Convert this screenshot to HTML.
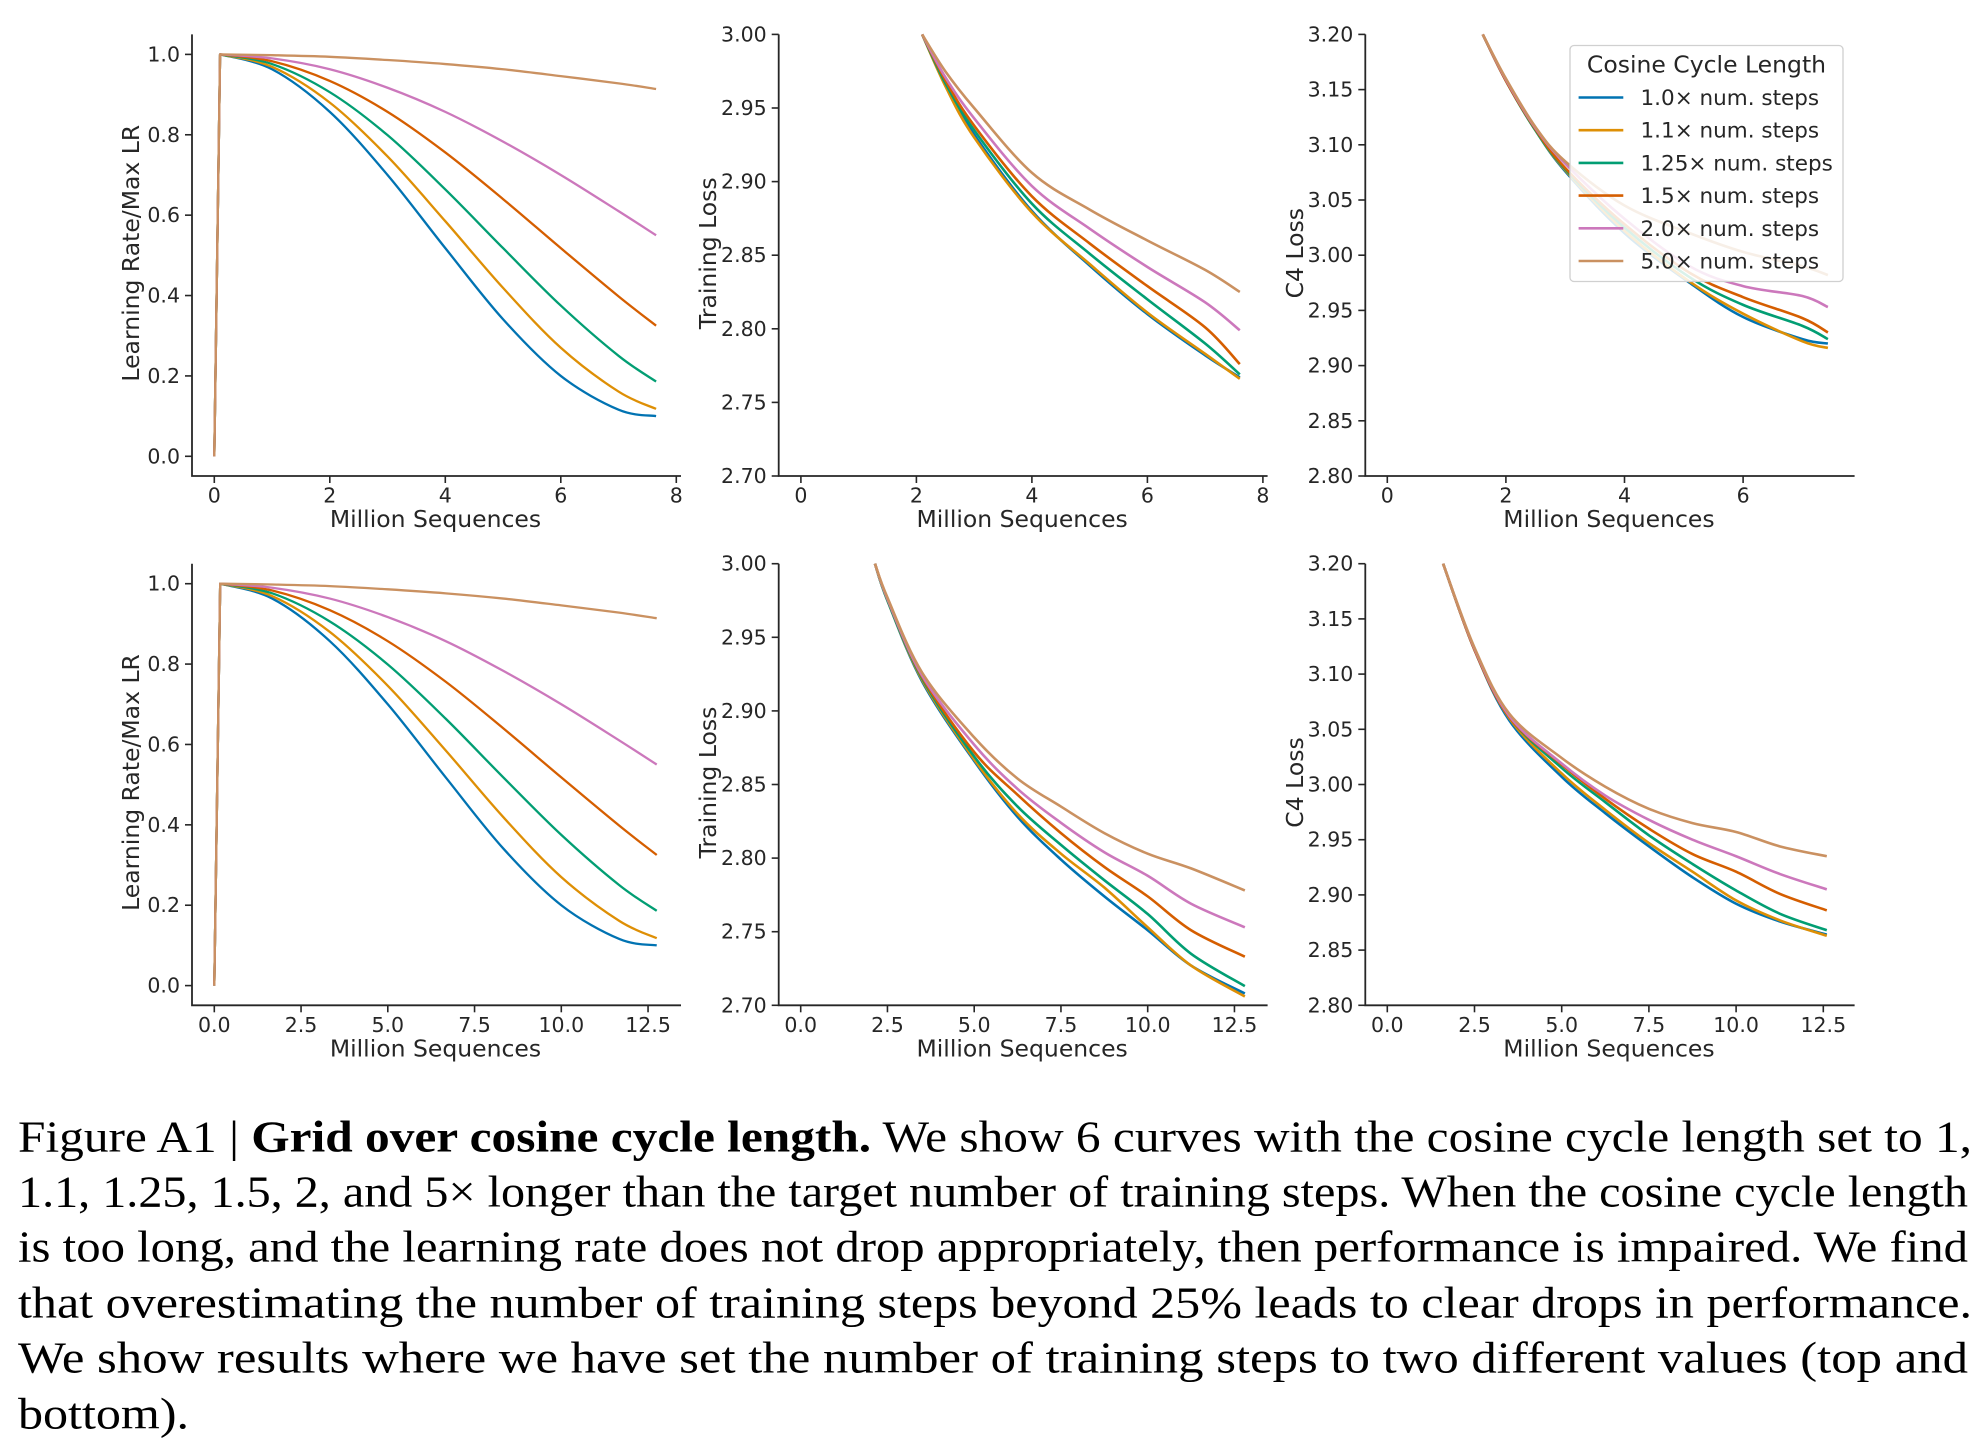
<!DOCTYPE html>
<html><head><meta charset="utf-8"><style>
html,body{margin:0;padding:0;background:#fff;}
svg{display:block;}
text{font-family:"DejaVu Sans","Liberation Sans",sans-serif;fill:#262626;}
.cap{font-family:"Liberation Serif","DejaVu Serif",serif;fill:#000;font-size:44px;}
</style></head><body>
<svg id="fig" xmlns="http://www.w3.org/2000/svg" width="1974" height="1442" viewBox="0 0 1974 1442">
<g id="plots"></g>
<g id="legend"></g>
<g id="caption">
<text class="cap" x="18" y="1151.7" textLength="1954" lengthAdjust="spacingAndGlyphs">Figure A1 | <tspan font-weight="bold">Grid over cosine cycle length.</tspan> We show 6 curves with the cosine cycle length set to 1,</text>
<text class="cap" x="18" y="1206.7" textLength="1950" lengthAdjust="spacingAndGlyphs">1.1, 1.25, 1.5, 2, and 5× longer than the target number of training steps. When the cosine cycle length</text>
<text class="cap" x="18" y="1261.7" textLength="1950" lengthAdjust="spacingAndGlyphs">is too long, and the learning rate does not drop appropriately, then performance is impaired. We find</text>
<text class="cap" x="18" y="1317.3" textLength="1954" lengthAdjust="spacingAndGlyphs">that overestimating the number of training steps beyond 25% leads to clear drops in performance.</text>
<text class="cap" x="18" y="1372.7" textLength="1950" lengthAdjust="spacingAndGlyphs">We show results where we have set the number of training steps to two different values (top and</text>
<text class="cap" x="18" y="1428.3" textLength="171" lengthAdjust="spacingAndGlyphs">bottom).</text>
</g>
</svg>
<script>
// ---- data ----
const seriesNames = ["1.0× num. steps","1.1× num. steps","1.25× num. steps","1.5× num. steps","2.0× num. steps","5.0× num. steps"];
const seriesColors = ["#0173b2","#de8f05","#029e73","#d55e00","#cc78bc","#ca9161"];

// Learning rate schedules (fraction of max LR)
const lrTopX = [0, 0.1, 1, 2, 3, 4, 5, 6, 7, 7.65];
const lrBotX = [0, 0.17, 1.67, 3.33, 5, 6.67, 8.33, 10, 11.67, 12.75];
const lr10 = [0, 1, 0.963, 0.857, 0.700, 0.518, 0.341, 0.200, 0.116, 0.100];
const lr11 = [0, 1, 0.969, 0.880, 0.746, 0.585, 0.419, 0.270, 0.161, 0.118];
const lr125 = [0, 1, 0.976, 0.906, 0.799, 0.664, 0.518, 0.375, 0.250, 0.186];
const lr15 = [0, 1, 0.983, 0.934, 0.857, 0.756, 0.640, 0.518, 0.398, 0.325];
const lr20 = [0, 1, 0.990, 0.963, 0.917, 0.857, 0.783, 0.700, 0.610, 0.550];
const lr50 = [0, 1, 0.998, 0.994, 0.986, 0.976, 0.963, 0.946, 0.928, 0.914];

// Training loss, top row
const trTopX = [2.1, 2.5, 3, 4, 5, 6, 7, 7.6];
const trTop10 = [3.00, 2.966, 2.932, 2.880, 2.843, 2.810, 2.782, 2.767];
const trTop11 = [3.00, 2.965, 2.930, 2.879, 2.844, 2.811, 2.783, 2.766];
const trTop125 = [3.00, 2.967, 2.935, 2.885, 2.851, 2.820, 2.790, 2.769];
const trTop15 = [3.00, 2.969, 2.938, 2.890, 2.858, 2.829, 2.801, 2.776];
const trTop20 = [3.00, 2.971, 2.943, 2.897, 2.868, 2.842, 2.818, 2.799];
const trTop50 = [3.00, 2.975, 2.950, 2.906, 2.881, 2.860, 2.840, 2.825];

// Training loss, bottom row
const trBotX = [2.14, 2.5, 3.5, 5, 6.25, 7.5, 8.75, 10, 11.25, 12.8];
const trBot10 = [3.00, 2.975, 2.920, 2.866, 2.828, 2.799, 2.774, 2.751, 2.727, 2.708];
const trBot11 = [3.00, 2.975, 2.921, 2.867, 2.830, 2.803, 2.780, 2.753, 2.727, 2.706];
const trBot125 = [3.00, 2.975, 2.922, 2.869, 2.835, 2.809, 2.785, 2.762, 2.735, 2.713];
const trBot15 = [3.00, 2.976, 2.923, 2.872, 2.843, 2.817, 2.794, 2.774, 2.751, 2.733];
const trBot20 = [3.00, 2.976, 2.924, 2.877, 2.847, 2.824, 2.804, 2.788, 2.769, 2.753];
const trBot50 = [3.00, 2.977, 2.926, 2.882, 2.854, 2.835, 2.817, 2.803, 2.793, 2.778];

// C4 loss, top row
const c4TopX = [1.61, 2, 2.5, 3, 4, 5.1, 6, 7, 7.43];
const c4Top10 = [3.20, 3.158, 3.113, 3.076, 3.020, 2.975, 2.944, 2.924, 2.920];
const c4Top11 = [3.20, 3.158, 3.113, 3.077, 3.022, 2.976, 2.947, 2.922, 2.916];
const c4Top125 = [3.20, 3.158, 3.113, 3.078, 3.025, 2.980, 2.955, 2.936, 2.924];
const c4Top15 = [3.20, 3.158, 3.114, 3.079, 3.028, 2.984, 2.962, 2.943, 2.930];
const c4Top20 = [3.20, 3.159, 3.115, 3.083, 3.033, 2.990, 2.972, 2.963, 2.953];
const c4Top50 = [3.20, 3.160, 3.116, 3.085, 3.045, 3.020, 3.003, 2.990, 2.982];

// C4 loss, bottom row
const c4BotX = [1.6, 2.5, 3.5, 5, 6.25, 7.5, 8.75, 10, 11.25, 12.6];
const c4Bot10 = [3.20, 3.122, 3.058, 3.007, 2.974, 2.944, 2.916, 2.892, 2.876, 2.864];
const c4Bot11 = [3.20, 3.122, 3.060, 3.010, 2.977, 2.947, 2.921, 2.895, 2.877, 2.863];
const c4Bot125 = [3.20, 3.122, 3.061, 3.015, 2.984, 2.954, 2.928, 2.904, 2.883, 2.868];
const c4Bot15 = [3.20, 3.122, 3.061, 3.018, 2.987, 2.960, 2.937, 2.921, 2.901, 2.886];
const c4Bot20 = [3.20, 3.123, 3.062, 3.019, 2.990, 2.968, 2.950, 2.935, 2.919, 2.905];
const c4Bot50 = [3.20, 3.124, 3.064, 3.024, 2.998, 2.978, 2.965, 2.957, 2.944, 2.935];

// Tick labels
const lrTicks = ["0.0","0.2","0.4","0.6","0.8","1.0"];
const trTicks = ["2.70","2.75","2.80","2.85","2.90","2.95","3.00"];
const c4Ticks = ["2.80","2.85","2.90","2.95","3.00","3.05","3.10","3.15","3.20"];
const xTicksTop = ["0","2","4","6","8"];
const xTicksTop3 = ["0","2","4","6"];
const xTicksBot = ["0.0","2.5","5.0","7.5","10.0","12.5"];

// ---- drawing ----
const NS = "http://www.w3.org/2000/svg";
const root = document.getElementById("plots");
function mk(tag, parent){ const e = document.createElementNS(NS, tag); parent.appendChild(e); return e; }

function smoothPath(pts){
  let d = "M" + pts[0][0].toFixed(2) + "," + pts[0][1].toFixed(2);
  for (let i = 0; i < pts.length - 1; i++){
    const p0 = pts[Math.max(0,i-1)], p1 = pts[i], p2 = pts[i+1], p3 = pts[Math.min(pts.length-1,i+2)];
    const c1x = p1[0] + (p2[0]-p0[0])/6, c1y = p1[1] + (p2[1]-p0[1])/6;
    const c2x = p2[0] - (p3[0]-p1[0])/6, c2y = p2[1] - (p3[1]-p1[1])/6;
    d += " C" + c1x.toFixed(2)+","+c1y.toFixed(2)+" "+c2x.toFixed(2)+","+c2y.toFixed(2)+" "+p2[0].toFixed(2)+","+p2[1].toFixed(2);
  }
  return d;
}
function linePath(pts){ return pts.map((p,i)=>(i?"L":"M")+p[0].toFixed(2)+","+p[1].toFixed(2)).join(" "); }

function panel(cfg){
  const g = mk("g", root);
  
  
  const top = cfg.top, bot = cfg.bot;
  const xs = v => cfg.x0 + cfg.kx * v;
  const ys = v => cfg.yTopPx + (cfg.yTopVal - v) / (cfg.yTopVal - cfg.yBotVal) * (cfg.yBotPx - cfg.yTopPx);
  const cid = "clip-" + cfg.name;
  const cp = mk("clipPath", g); cp.setAttribute("id", cid);
  const cr = mk("rect", cp); cr.setAttribute("x", cfg.left); cr.setAttribute("y", top - 2); cr.setAttribute("width", cfg.right - cfg.left); cr.setAttribute("height", bot - top + 2);
  const sg = mk("g", g); sg.setAttribute("clip-path", "url(#"+cid+")");
  
  
  cfg.series.forEach((vals, i) => {
    const pts = vals.map((v, j) => [xs(cfg.xv[j]), ys(v)]);
    const p = mk("path", sg);
    p.setAttribute("d", cfg.lr ? (linePath(pts.slice(0,2)) + " " + smoothPath(pts.slice(1)).replace(/^M/,"L")) : smoothPath(pts));
    p.setAttribute("fill", "none");
    p.setAttribute("stroke", seriesColors[i]);
    p.setAttribute("stroke-width", cfg.lr ? 2.3 : 2.6);
    p.setAttribute("stroke-linejoin", "round");
    
    
  });
  const sp = mk("path", g);
  sp.setAttribute("d", "M"+cfg.left+","+top+" L"+cfg.left+","+bot+" L"+cfg.right+","+bot);
  sp.setAttribute("fill","none"); sp.setAttribute("stroke","#262626"); sp.setAttribute("stroke-width","1.8");
  
  
  cfg.yTicks.forEach(t => {
    const y = ys(parseFloat(t));
    const l = mk("line", g); l.setAttribute("x1", cfg.left-7); l.setAttribute("x2", cfg.left); l.setAttribute("y1", y); l.setAttribute("y2", y);
    l.setAttribute("stroke","#262626"); l.setAttribute("stroke-width","1.6");
    
    
    const tx = mk("text", g); tx.textContent = t;
    tx.setAttribute("x", cfg.left-12); tx.setAttribute("y", y+7); tx.setAttribute("text-anchor","end"); tx.setAttribute("font-size","20.5");
    
    
  });
  cfg.xTicks.forEach(t => {
    const x = xs(parseFloat(t));
    const l = mk("line", g); l.setAttribute("x1", x); l.setAttribute("x2", x); l.setAttribute("y1", bot); l.setAttribute("y2", bot+7);
    l.setAttribute("stroke","#262626"); l.setAttribute("stroke-width","1.6");
    
    
    const tx = mk("text", g); tx.textContent = t;
    tx.setAttribute("x", x); tx.setAttribute("y", bot+26.5); tx.setAttribute("text-anchor","middle"); tx.setAttribute("font-size","20.5");
    
    
  });
  const xl = mk("text", g); xl.textContent = "Million Sequences";
  xl.setAttribute("x", (cfg.left + cfg.right)/2 - 1); xl.setAttribute("y", bot+51); xl.setAttribute("text-anchor","middle"); xl.setAttribute("font-size","23.5");
  
  
  const yl = mk("text", g); yl.textContent = cfg.ylabel;
  const cy = (top + bot)/2 - 2;
  yl.setAttribute("transform", "translate("+(cfg.ylabX)+","+cy+") rotate(-90)");
  yl.setAttribute("text-anchor","middle"); yl.setAttribute("font-size","23.5");
  
  
}

const R = 529.3;
const rows = [0,1];
rows.forEach(r => {
  const top = 34.4 + r*R, bot = 476 + r*R;
  const isTop = r === 0;
  panel({name: isTop?"lr-top":"lr-bottom", top, bot, left:192, right:681,
    x0:214.3, kx: isTop?57.75:34.7, xv: isTop?lrTopX:lrBotX,
    yTopVal:1.0, yBotVal:0.0, yTopPx: top+20, yBotPx: top+421.9,
    series:[lr10,lr11,lr125,lr15,lr20,lr50], lr:true,
    yTicks: lrTicks, xTicks: isTop?xTicksTop:xTicksBot, ylabel:"Learning Rate/Max LR", ylabX:139});
  panel({name: isTop?"train-loss-top":"train-loss-bottom", top, bot, left:778.7, right:1267.6,
    x0: isTop?800.9:800.7, kx: isTop?57.75:34.7, xv: isTop?trTopX:trBotX,
    yTopVal:3.00, yBotVal:2.70, yTopPx: top, yBotPx: bot,
    series: isTop?[trTop10,trTop11,trTop125,trTop15,trTop20,trTop50]:[trBot10,trBot11,trBot125,trBot15,trBot20,trBot50],
    yTicks: trTicks, xTicks: isTop?xTicksTop:xTicksBot, ylabel:"Training Loss", ylabX:716});
  panel({name: isTop?"c4-loss-top":"c4-loss-bottom", top, bot, left:1365.3, right:1854.6,
    x0:1387.3, kx: isTop?59.3:34.88, xv: isTop?c4TopX:c4BotX,
    yTopVal:3.20, yBotVal:2.80, yTopPx: top, yBotPx: bot,
    series: isTop?[c4Top10,c4Top11,c4Top125,c4Top15,c4Top20,c4Top50]:[c4Bot10,c4Bot11,c4Bot125,c4Bot15,c4Bot20,c4Bot50],
    yTicks: c4Ticks, xTicks: isTop?xTicksTop3:xTicksBot, ylabel:"C4 Loss", ylabX:1303});
});

const lg = document.getElementById("legend");
const box = mk("rect", lg);
box.setAttribute("x",1570); box.setAttribute("y",45.5); box.setAttribute("width",273); box.setAttribute("height",236); box.setAttribute("rx",4);
box.setAttribute("fill","#fff"); box.setAttribute("fill-opacity","0.85"); box.setAttribute("stroke","#d0d0d0"); box.setAttribute("stroke-width","1.3");


const lt = mk("text", lg); lt.textContent = "Cosine Cycle Length";
lt.setAttribute("x",1706.5); lt.setAttribute("y",72.5); lt.setAttribute("text-anchor","middle"); lt.setAttribute("font-size","23.5");


seriesNames.forEach((n,i) => {
  const y = 97.5 + i*32.7;
  const eg = mk("g", lg);
  
  
  const l = mk("line", eg); l.setAttribute("x1",1578.6); l.setAttribute("x2",1623.3); l.setAttribute("y1",y); l.setAttribute("y2",y);
  l.setAttribute("stroke", seriesColors[i]); l.setAttribute("stroke-width","2.6");
  const t = mk("text", eg); t.textContent = n;
  t.setAttribute("x",1640.5); t.setAttribute("y",y+7.5); t.setAttribute("font-size","21.5");
});
</script>
</body></html>
